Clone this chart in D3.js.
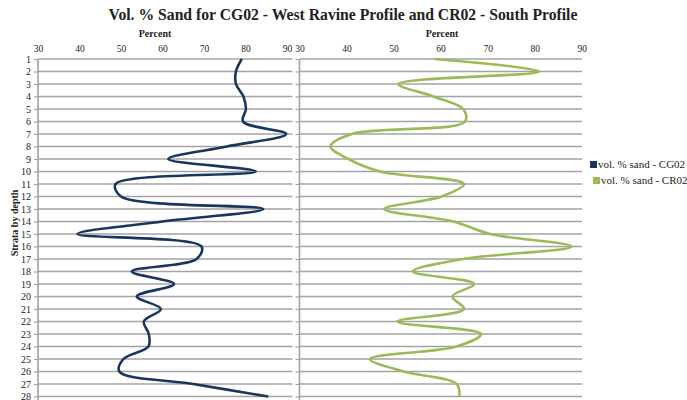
<!DOCTYPE html>
<html>
<head>
<meta charset="utf-8">
<script src="https://cdn.jsdelivr.net/npm/d3@7/dist/d3.min.js"></script>
<style>
  html, body { margin: 0; padding: 0; background: #fff; }
  svg { display: block; }
  svg text { font-family: "Liberation Serif", "Times New Roman", Times, "DejaVu Serif", serif !important; fill: #222; }
</style>
</head>
<body>
<svg id="chart" width="687" height="400"></svg>
<script>
// Strata numbered from the top of each profile downward
const strata = d3.range(1, 29);

// Volume % sand per stratum
const sandCG02 = [79.1, 77.7, 77.7, 79.5, 80.1, 79.4, 89.8, 75.5, 61.4, 82.5,
                  48.7, 50.0, 84.3, 60.0, 39.5, 69.4, 68.2, 52.6, 62.8, 53.8,
                  59.6, 55.5, 56.7, 56.6, 50.6, 49.6, 67.4, 85.5];
const sandCR02 = [58.7, 81.0, 51.0, 58.5, 64.8, 65.2, 41.1, 36.6, 40.4, 47.1,
                  65.0, 60.2, 48.0, 62.7, 70.5, 87.9, 64.8, 54.1, 67.1, 62.5,
                  65.0, 50.8, 68.6, 63.4, 45.0, 52.1, 63.4, 64.0];

const xTicks = [30, 40, 50, 60, 70, 80, 90];
const seriesNames = ["vol. % sand - CG02", "vol. % sand - CR02"];
const seriesColors = ["#17375e", "#9bbb59"];

const svg = d3.select("#chart");

const y = d3.scaleLinear().domain([1, 28]).range([59, 396.5]);

const panels = [
  { values: sandCG02, color: seriesColors[0], x: d3.scaleLinear().domain([30, 90]).range([38, 287]), gridEnd: 292.5, titleX: 155, labels: true },
  { values: sandCR02, color: seriesColors[1], x: d3.scaleLinear().domain([30, 90]).range([299.5, 581.7]), gridEnd: 582, titleX: 442, labels: false }
];

// Chart title
svg.append("text")
  .attr("x", 343).attr("y", 20)
  .attr("text-anchor", "middle")
  .style("font-size", "15.7px").style("font-weight", "bold")
  .text("Vol. % Sand for CG02 - West Ravine Profile and CR02 - South Profile");

// Vertical axis title
svg.append("text")
  .attr("transform", "translate(18,223) rotate(-90)")
  .attr("text-anchor", "middle")
  .style("font-size", "10px").style("font-weight", "bold")
  .text("Strata by depth");

panels.forEach(p => {
  const x0 = p.x.range()[0];
  const g = svg.append("g");

  // Horizontal gridlines at each stratum
  g.selectAll("line.grid").data(strata).join("line")
    .attr("class", "grid")
    .attr("x1", x0).attr("x2", p.gridEnd)
    .attr("y1", d => y(d)).attr("y2", d => y(d))
    .attr("stroke", "#a3a3a3").attr("stroke-width", 1.6);

  // Left axis with small ticks
  const yAxis = d3.axisLeft(y).tickValues(strata).tickSize(4).tickPadding(3)
    .tickFormat(p.labels ? d3.format("d") : "");
  const ya = g.append("g").attr("transform", `translate(${x0},0)`).call(yAxis);
  ya.select(".domain").attr("stroke", "#a3a3a3").attr("stroke-width", 1.6)
    .attr("d", `M0,${y(1)}V${y(28) + 4}`);
  ya.selectAll(".tick line").attr("stroke", "#a3a3a3").attr("stroke-width", 1.2);
  ya.selectAll(".tick text").style("font-size", "10px").attr("fill", "#222");

  // Top value axis
  const xAxis = d3.axisTop(p.x).tickValues(xTicks).tickSize(0).tickPadding(0);
  const xa = g.append("g").attr("transform", "translate(0,52)").call(xAxis);
  xa.select(".domain").remove();
  xa.selectAll(".tick text").style("font-size", "9.5px").attr("fill", "#222");

  // Axis title
  g.append("text")
    .attr("x", p.titleX).attr("y", 37)
    .attr("text-anchor", "middle")
    .style("font-size", "10px").style("font-weight", "bold")
    .text("Percent");

  // Smoothed profile line
  const line = d3.line()
    .x((v) => p.x(v))
    .y((v, i) => y(strata[i]))
    .curve(d3.curveCatmullRom.alpha(0.5));
  g.append("path")
    .datum(p.values)
    .attr("d", line)
    .attr("fill", "none")
    .attr("stroke", p.color)
    .attr("stroke-width", 2.6)
    .attr("stroke-linejoin", "round");
});

// Legend
const legendRows = [
  { name: seriesNames[0], color: seriesColors[0], x: 590, y: 164.5 },
  { name: seriesNames[1], color: seriesColors[1], x: 593, y: 180.5 }
];
const lg = svg.append("g").selectAll("g").data(legendRows).join("g")
  .attr("transform", d => `translate(${d.x},${d.y})`);
lg.append("rect").attr("x", 0).attr("y", -3.5).attr("width", 7).attr("height", 7)
  .attr("fill", d => d.color);
lg.append("text").attr("x", 8).attr("y", 3.5)
  .style("font-size", "11px")
  .text(d => d.name);
</script>
</body>
</html>
